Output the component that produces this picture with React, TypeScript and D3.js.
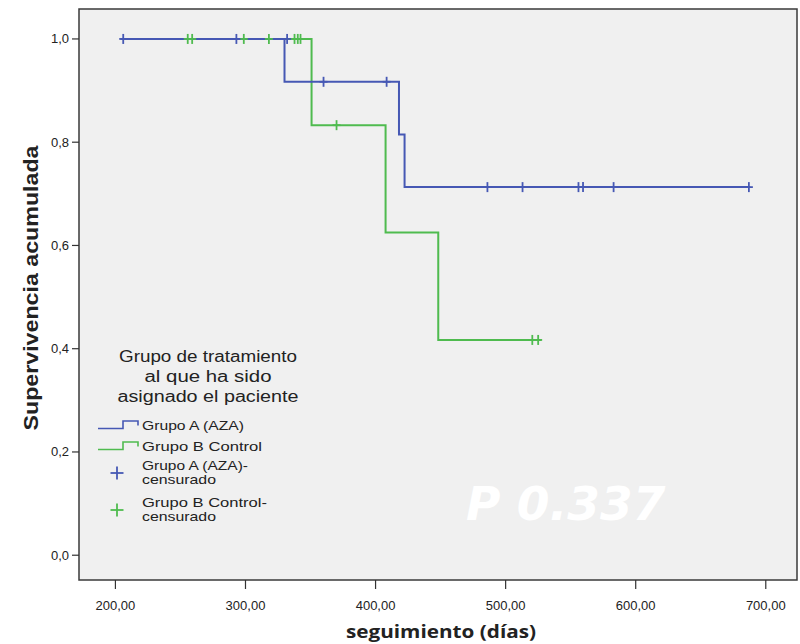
import React from "react";
import * as d3 from "d3";

// ---- data ----
const xTicks = [200, 300, 400, 500, 600, 700];
const yTicks = [0, 0.2, 0.4, 0.6, 0.8, 1.0];

// step curves: [day, survival]
const groupASteps: [number, number][] = [
  [204, 1.0],
  [330, 0.917],
  [418, 0.815],
  [422.3, 0.713],
  [688, 0.713],
];
const groupBSteps: [number, number][] = [
  [204, 1.0],
  [350.8, 0.833],
  [407.7, 0.625],
  [448.2, 0.417],
  [527.5, 0.417],
];
// censored observations: [day, survival]
const groupACensored: [number, number][] = [
  [206, 1.0], [293, 1.0], [332, 1.0], [360, 0.917], [408.5, 0.917],
  [486, 0.713], [513, 0.713], [556, 0.713], [559.5, 0.713], [583, 0.713], [687, 0.713],
];
const groupBCensored: [number, number][] = [
  [255.6, 1.0], [259, 1.0], [298.7, 1.0], [318, 1.0], [337.7, 1.0], [340.2, 1.0], [342.3, 1.0],
  [370, 0.833], [520.5, 0.417], [525, 0.417],
];

const legendTitle = ["Grupo de tratamiento", "al que ha sido", "asignado el paciente"];
const legendItems = ["Grupo A (AZA)", "Grupo B Control"];
const legendCensored = [["Grupo A (AZA)-", "censurado"], ["Grupo B Control-", "censurado"]];

const BLUE = "#4658b4";
const GREEN = "#4fbb4f";

export default function App() {
  const left = 79, right = 797, top = 9, bottom = 580;
  const x = d3.scaleLinear().domain([172, 724]).range([left, right]);
  const y = d3.scaleLinear().domain([-0.048, 1.058]).range([bottom, top]);
  const line = d3
    .line<[number, number]>()
    .x((d) => x(d[0]))
    .y((d) => y(d[1]))
    .curve(d3.curveStepAfter);

  const fmtY = (v: number) => v.toFixed(1).replace(".", ",");
  const fmtX = (v: number) => v.toFixed(2).replace(".", ",");

  const plus = (cx: number, cy: number, color: string, key: string, h = 5, w = 4) => (
    <g key={key} stroke={color} strokeWidth={1.8}>
      <line x1={cx} x2={cx} y1={cy - h} y2={cy + h} />
      <line x1={cx - w} x2={cx + w} y1={cy} y2={cy} />
    </g>
  );

  const tickFont = "'Liberation Sans', Arial, sans-serif";

  return (
    <svg
      width={800}
      height={644}
      style={{ position: "absolute", left: 0, top: 0, background: "#ffffff" }}
    >
      <rect x={left} y={top} width={right - left} height={bottom - top} fill="#f0f0f0" stroke="#3a3a3a" strokeWidth={1.5} />

      {/* y axis */}
      {yTicks.map((t) => (
        <g key={"y" + t}>
          <line x1={left - 7} x2={left} y1={y(t)} y2={y(t)} stroke="#333" strokeWidth={1.2} />
          <text x={left - 10} y={y(t) + 4.5} textAnchor="end" fontSize={13} fontFamily={tickFont} fill="#222">
            {fmtY(t)}
          </text>
        </g>
      ))}
      {/* x axis */}
      {xTicks.map((t) => (
        <g key={"x" + t}>
          <line x1={x(t)} x2={x(t)} y1={bottom} y2={bottom + 9} stroke="#333" strokeWidth={1.2} />
          <text x={x(t)} y={bottom + 30} textAnchor="middle" fontSize={13} fontFamily={tickFont} fill="#222">
            {fmtX(t)}
          </text>
        </g>
      ))}

      <text
        transform={`translate(38,288) rotate(-90)`}
        textAnchor="middle"
        fontSize={21}
        fontWeight="bold"
        fontFamily={tickFont}
        fill="#222"
        textLength={285}
        lengthAdjust="spacingAndGlyphs"
      >
        Supervivencia acumulada
      </text>
      <text
        x={441}
        y={638}
        textAnchor="middle"
        fontSize={18}
        fontWeight="bold"
        fontFamily="'Open Sans', sans-serif"
        fill="#222"
        textLength={190}
        lengthAdjust="spacingAndGlyphs"
      >
        seguimiento (días)
      </text>

      {/* curves */}
      <path d={line(groupBSteps) || ""} fill="none" stroke={GREEN} strokeWidth={2} />
      <path d={line(groupASteps) || ""} fill="none" stroke={BLUE} strokeWidth={2} />
      {groupBCensored.map((d, i) => plus(x(d[0]), y(d[1]), GREEN, "gc" + i))}
      {groupACensored.map((d, i) => plus(x(d[0]), y(d[1]), BLUE, "bc" + i))}

      {/* legend */}
      {legendTitle.map((s, i) => (
        <text
          key={"lt" + i}
          x={208}
          y={362 + i * 20}
          textAnchor="middle"
          fontSize={16}
          fontFamily={tickFont}
          fill="#222"
          textLength={[178, 127, 181][i]}
          lengthAdjust="spacingAndGlyphs"
        >
          {s}
        </text>
      ))}
      {legendItems.map((s, i) => {
        const cy = 425 + i * 21;
        const c = i === 0 ? BLUE : GREEN;
        return (
          <g key={"li" + i}>
            <path
              d={`M98,${cy + 3.5} H123 V${cy - 4} H138 V${cy + 0.5}`}
              fill="none"
              stroke={c}
              strokeWidth={1.6}
            />
            <text
              x={142}
              y={cy + 4.5}
              fontSize={13}
              fontFamily={tickFont}
              fill="#222"
              textLength={[102, 120][i]}
              lengthAdjust="spacingAndGlyphs"
            >
              {s}
            </text>
          </g>
        );
      })}
      {legendCensored.map((lines, i) => {
        const cy = 473 + i * 37;
        const c = i === 0 ? BLUE : GREEN;
        return (
          <g key={"lc" + i}>
            {plus(117, cy, c, "lp" + i, 6.5, 6.5)}
            <text x={142} y={cy - 3} fontSize={13} fontFamily={tickFont} fill="#222"
              textLength={[106, 125][i]} lengthAdjust="spacingAndGlyphs">
              {lines[0]}
            </text>
            <text x={142} y={cy + 11} fontSize={13} fontFamily={tickFont} fill="#222"
              textLength={74} lengthAdjust="spacingAndGlyphs">
              {lines[1]}
            </text>
          </g>
        );
      })}

      <text
        x={466}
        y={520}
        fontSize={47}
        fontWeight="bold"
        fontStyle="italic"
        fontFamily="'DejaVu Sans', sans-serif"
        fill="#ffffff"
      >
        P 0.337
      </text>
    </svg>
  );
}
